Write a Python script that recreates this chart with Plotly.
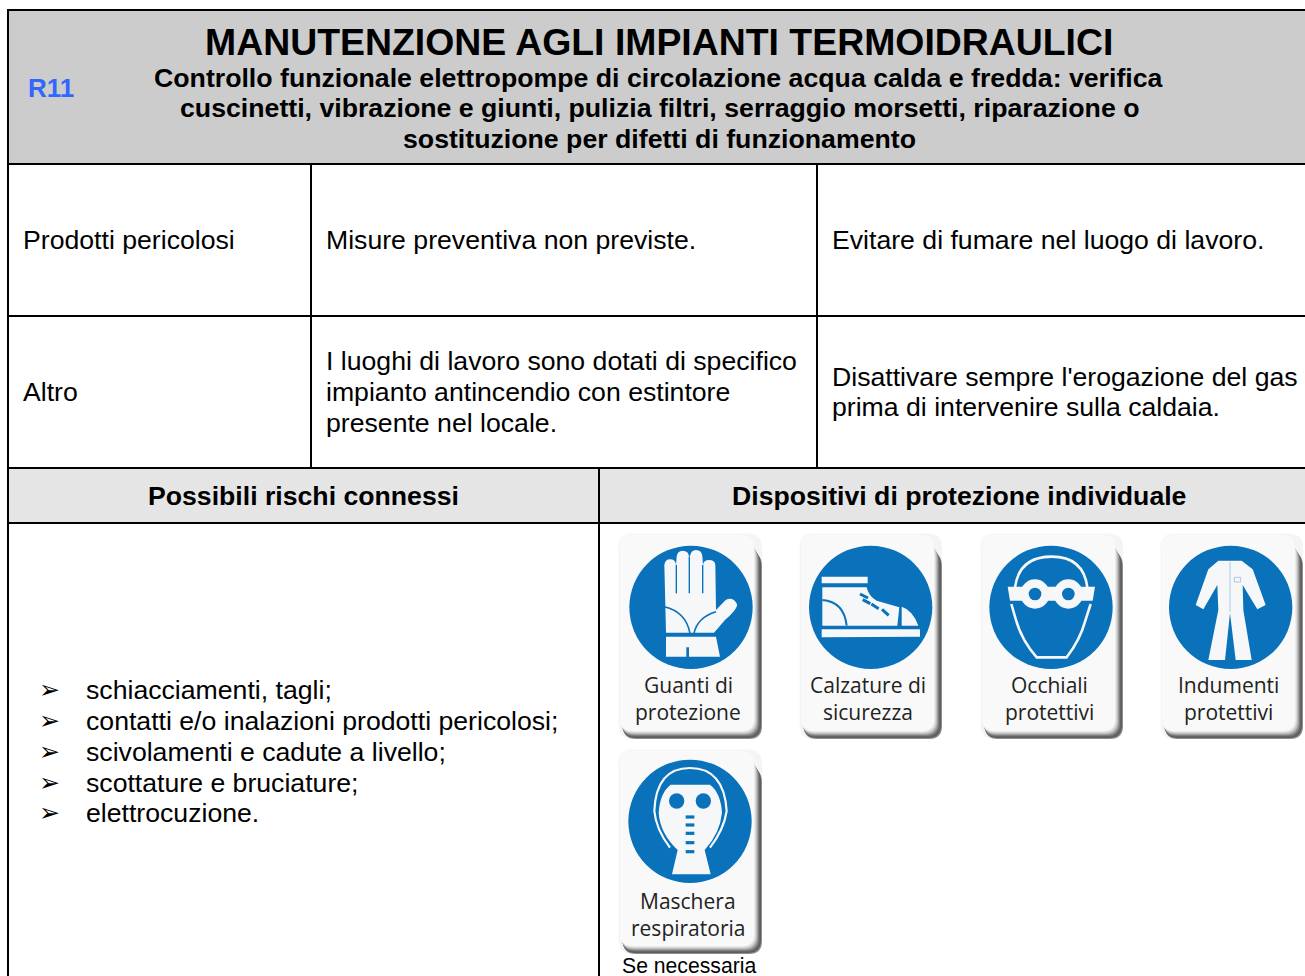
import plotly.graph_objects as go

# ---- text content ----
code_label = "R11"
title = "MANUTENZIONE AGLI IMPIANTI TERMOIDRAULICI"
subtitle_lines = [
    "Controllo funzionale elettropompe di circolazione acqua calda e fredda: verifica",
    "cuscinetti, vibrazione e giunti, pulizia filtri, serraggio morsetti, riparazione o",
    "sostituzione per difetti di funzionamento",
]
row1_cells = [["Prodotti pericolosi"], ["Misure preventiva non previste."], ["Evitare di fumare nel luogo di lavoro."]]
row2_cells = [
    ["Altro"],
    ["I luoghi di lavoro sono dotati di specifico", "impianto antincendio con estintore", "presente nel locale."],
    ["Disattivare sempre l'erogazione del gas", "prima di intervenire sulla caldaia."],
]
section_headers = ["Possibili rischi connessi", "Dispositivi di protezione individuale"]
risks = [
    "schiacciamenti, tagli;",
    "contatti e/o inalazioni prodotti pericolosi;",
    "scivolamenti e cadute a livello;",
    "scottature e bruciature;",
    "elettrocuzione.",
]
bullet = "\u27a2"
ppe_labels = [
    ["Guanti di", "protezione"],
    ["Calzature di", "sicurezza"],
    ["Occhiali", "protettivi"],
    ["Indumenti", "protettivi"],
    ["Maschera", "respiratoria"],
]
ppe_note = "Se necessaria"

W, H = 1305, 976
SANS = "Liberation Sans"
CARD = "Open Sans"
BLUE = "#0a71bb"
WHITE = "#f6f7f8"
shapes, notes = [], []


def rect(x0, y0, x1, y1, fill):
    shapes.append(dict(type="rect", xref="x", yref="y", x0=x0, y0=y0, x1=x1, y1=y1,
                       fillcolor=fill, line_width=0, layer="below"))


def line(x0, y0, x1, y1, width=2, color="#000000"):
    shapes.append(dict(type="line", xref="x", yref="y", x0=x0, y0=y0, x1=x1, y1=y1,
                       line=dict(color=color, width=width), layer="below"))


def text(s, x, y, size, color="#000000", bold=False, anchor="left", family=SANS):
    notes.append(dict(text=f"<b>{s}</b>" if bold else s, x=x, y=y, xref="x", yref="y",
                      xanchor=anchor, yanchor="middle", showarrow=False, borderpad=0,
                      font=dict(family=family, size=size, color=color)))


def rounded(x0, y0, x1, y1, r, fill):
    p = (f"M{x0+r},{y0} L{x1-r},{y0} Q{x1},{y0} {x1},{y0+r} L{x1},{y1-r} Q{x1},{y1} {x1-r},{y1} "
         f"L{x0+r},{y1} Q{x0},{y1} {x0},{y1-r} L{x0},{y0+r} Q{x0},{y0} {x0+r},{y0} Z")
    shapes.append(dict(type="path", xref="x", yref="y", path=p, fillcolor=fill, line_width=0, layer="above"))


class Pic:
    """Draws pictogram parts given in a local 3x grid, mapped to page pixels."""

    def __init__(self, ox, oy):
        self.ox, self.oy = ox, oy

    def pt(self, x, y):
        return f"{self.ox + x / 3:.2f},{self.oy + y / 3:.2f}"

    def path(self, cmds, fill=None, stroke=None, width=1):
        out = []
        for c in cmds:
            if isinstance(c, str):
                out.append(c)
            else:
                out.append(self.pt(*c))
        d = dict(type="path", xref="x", yref="y", path=" ".join(out), layer="above")
        d["fillcolor"] = fill if fill else "rgba(0,0,0,0)"
        d["line"] = dict(color=stroke, width=width) if stroke else dict(width=0)
        shapes.append(d)

    def circle(self, cx, cy, r, fill, stroke=None, width=1):
        d = dict(type="circle", xref="x", yref="y",
                 x0=self.ox + (cx - r) / 3, x1=self.ox + (cx + r) / 3,
                 y0=self.oy + (cy - r) / 3, y1=self.oy + (cy + r) / 3,
                 fillcolor=fill, layer="above")
        d["line"] = dict(color=stroke, width=width) if stroke else dict(width=0)
        shapes.append(d)

    def seg(self, x0, y0, x1, y1, color, width):
        self.path(["M", (x0, y0), "L", (x1, y1)], stroke=color, width=width)


def card(x0, y0, x1, y1):
    # soft halo, then a shadow that grows towards the right and the bottom and fades at its ends
    rounded(x0 - 2, y0 - 2, x1, y1, 14, "#fbfbfb")
    rounded(x0 - 1, y0 - 1, x1, y1, 14, "#f4f4f4")
    steps = [("#8f8f8f", 0), ("#5e5e5e", 1), ("#666666", 2), ("#808080", 3),
             ("#a0a0a0", 4), ("#bfbfbf", 5), ("#d8d8d8", 6), ("#ebebeb", 7)]
    for col, k in steps:
        rounded(x0 + 3 - k * 0.35, y0 + 18 - k * 1.6, x1 - k, y1 - k, 13, col)
    rounded(x0, y0, x1 - 8, y1 - 8, 12, "#f9f9f9")


def glove(p):
    p.circle(243, 232, 185, BLUE)
    p.path(["M", (163, 105), "Q", (165, 88), (180, 88), "Q", (197, 88), (198, 105),
            "L", (200, 80), "Q", (202, 62), (218, 62), "Q", (236, 62), (237, 80),
            "L", (240, 78), "Q", (243, 60), (258, 60), "Q", (275, 60), (277, 78),
            "L", (279, 105), "Q", (281, 90), (297, 90), "Q", (315, 90), (316, 105),
            "L", (318, 240), "L", (347, 210), "Q", (368, 198), (381, 222),
            "Q", (384, 236), (345, 270), "L", (312, 308), "L", (168, 308), "Z"], fill=WHITE)
    p.path(["M", (168, 320), "L", (318, 320), "L", (330, 380), "L", (237, 380), "L", (237, 352), "L", (229, 352),
            "L", (229, 380), "L", (168, 380), "Z"], fill=WHITE)
    for x, y in ((199, 105), (238, 80), (278, 105)):
        p.seg(x, y, x, 190, BLUE, 1.4)
    p.path(["M", (163, 230), "Q", (228, 245), (240, 310)], stroke=BLUE, width=1.6)
    p.path(["M", (252, 310), "Q", (262, 262), (318, 245)], stroke=BLUE, width=1.6)


def shoe(p):
    p.circle(782, 232, 185, BLUE)
    p.path(["M", (635, 140), "L", (773, 140), "L", (773, 160), "L", (635, 160), "Z"], fill=WHITE)
    p.path(["M", (637, 172), "L", (770, 172), "Q", (775, 198), (800, 212), "L", (868, 232), "L", (862, 287),
            "L", (637, 287), "Z"], fill=WHITE)
    p.path(["M", (875, 230), "Q", (908, 240), (925, 287), "L", (875, 287), "Z"], fill=WHITE)
    p.path(["M", (635, 298), "L", (930, 298), "L", (930, 320), "L", (635, 322), "Z"], fill=WHITE)
    p.path(["M", (637, 210), "Q", (702, 215), (710, 287)], stroke=BLUE, width=2)
    for seg in [(750, 192, 774, 204), (758, 209, 781, 221), (784, 222, 806, 236), (816, 238, 836, 256)]:
        p.seg(*seg, BLUE, 3)


def goggles(p):
    p.circle(243, 232, 185, BLUE)
    p.path(["M", (135, 172), "Q", (148, 80), (245, 80), "Q", (340, 80), (352, 172)], stroke=WHITE, width=2.6)
    p.path(["M", (124, 222), "L", (138, 270), "Q", (155, 330), (200, 382), "L", (290, 382), "Q", (330, 330), (345, 275),
            "L", (362, 222)], stroke=WHITE, width=2.6)
    p.path(["M", (113, 170), "L", (375, 170), "L", (368, 212), "L", (120, 212), "Z"], fill=WHITE)
    for cx in (195, 295):
        p.circle(cx, 192, 44, WHITE)
        p.circle(cx, 192, 19, BLUE)


def suit(p):
    p.circle(782, 232, 185, BLUE)
    p.path(["M", (745, 92), "L", (815, 92), "L", (848, 118), "L", (887, 225), "L", (862, 238), "L", (818, 165),
            "L", (820, 240), "L", (845, 390), "L", (797, 390), "L", (780, 250), "L", (765, 390), "L", (715, 390),
            "L", (745, 240), "L", (742, 165), "L", (700, 238), "L", (677, 225), "L", (715, 118), "Z"], fill=WHITE)
    p.seg(780, 95, 780, 245, "#a9c8e6", 1)
    p.path(["M", (793, 142), "L", (812, 142), "L", (812, 156), "L", (793, 156), "Z"], stroke="#a9c8e6", width=1)


def mask(p):
    p.circle(240, 226, 185, BLUE)
    p.path(["M", (133, 195), "Q", (138, 66), (240, 66), "Q", (342, 66), (350, 195), "Q", (342, 250), (300, 305)],
           stroke=WHITE, width=2.2)
    p.path(["M", (133, 195), "Q", (138, 250), (180, 305)], stroke=WHITE, width=2.2)
    p.path(["M", (182, 116), "L", (300, 116), "Q", (332, 140), (336, 200), "Q", (330, 262), (284, 312),
            "L", (302, 385), "L", (186, 385), "L", (203, 312), "Q", (150, 262), (146, 200), "Q", (150, 140), (182, 116), "Z"],
           fill=WHITE)
    for cx in (200, 280):
        p.circle(cx, 165, 23, BLUE)
    for y in (213, 237, 262, 290, 317):
        p.seg(227, y, 253, y, BLUE, 3.2)


# ---- table ----
rect(8, 10, W, 164, "#cccccc")
rect(8, 468, W, 523, "#e5e5e5")
for args in [(7, 10, W, 10), (8, 164, W, 164), (8, 316, W, 316), (8, 468, W, 468), (8, 523, W, 523),
             (8, 9, 8, H), (311, 164, 311, 468), (817, 164, 817, 468), (599, 468, 599, H)]:
    line(*args)

text(code_label, 51, 87.5, 26, "#3366ff", bold=True, anchor="center")
text(title, 659, 42, 37.4, bold=True, anchor="center")
for s, y in zip(subtitle_lines, (78, 108, 139)):
    text(s, 659, y, 26.7, bold=True, anchor="center")

BODY = 26.65
text(row1_cells[0][0], 22, 240, BODY)
text(row1_cells[1][0], 325, 240, BODY)
text(row1_cells[2][0], 831, 240, BODY)
text(row2_cells[0][0], 22, 392, BODY)
for s, y in zip(row2_cells[1], (361, 392, 423)):
    text(s, 325, y, BODY)
for s, y in zip(row2_cells[2], (377, 407)):
    text(s, 831, y, BODY)

text(section_headers[0], 303.5, 496, 26.65, bold=True, anchor="center")
text(section_headers[1], 959, 496, 26.65, bold=True, anchor="center")

for s, y in zip(risks, (690, 721, 752, 783, 813)):
    text(bullet, 38, y - 1, 25, family="DejaVu Sans")
    text(s, 85, y, BODY)

# ---- PPE cards ----
cards = [(620, 535, 762, 739, 688, 685, glove, (610, 530)),
         (801, 535, 942, 739, 868, 685, shoe, (610, 530)),
         (982, 535, 1123, 739, 1049, 685, goggles, (970, 530)),
         (1162, 535, 1303, 739, 1228, 685, suit, (970, 530)),
         (620, 751, 762, 954, 688, 901, mask, (610, 746))]
for (x0, y0, x1, y1, cx, ty, draw, origin), lab in zip(cards, ppe_labels):
    card(x0, y0, x1, y1)
    draw(Pic(*origin))
    text(lab[0], cx, ty, 21, "#222222", anchor="center", family=CARD)
    text(lab[1], cx, ty + 27, 21, "#222222", anchor="center", family=CARD)

text(ppe_note, 621, 965, 21.2, anchor="left")

fig = go.Figure()
fig.update_layout(
    width=W, height=H, margin=dict(l=0, r=0, t=0, b=0),
    paper_bgcolor="#ffffff", plot_bgcolor="#ffffff", showlegend=False,
    xaxis=dict(visible=False, range=[0, W], fixedrange=True),
    yaxis=dict(visible=False, range=[H, 0], fixedrange=True),
    shapes=shapes, annotations=notes,
)
fig.write_html("out.html", config=dict(displayModeBar=False),
               post_script="document.body.style.margin='0';document.body.style.overflow='hidden';")
